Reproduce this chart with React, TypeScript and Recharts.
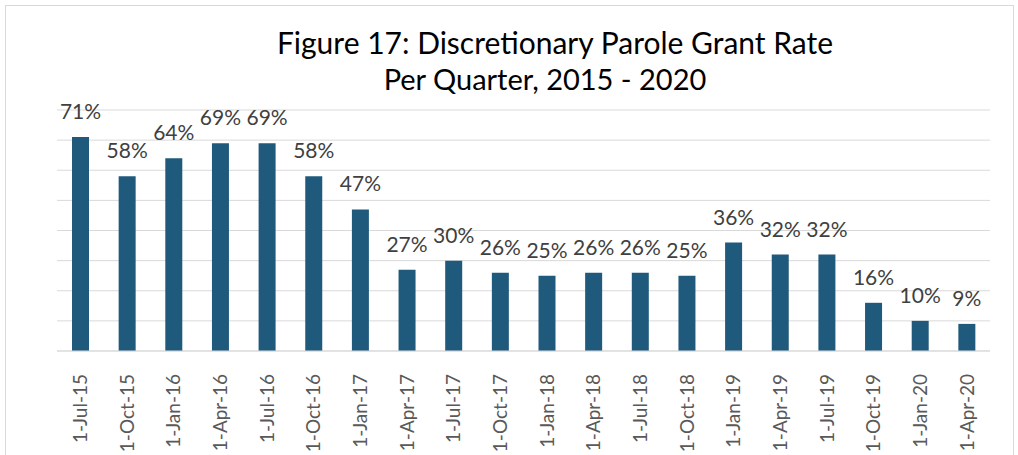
import { Bar, BarChart, CartesianGrid, LabelList, XAxis, YAxis } from "recharts";

const QUARTERS = [
  "1-Jul-15",
  "1-Oct-15",
  "1-Jan-16",
  "1-Apr-16",
  "1-Jul-16",
  "1-Oct-16",
  "1-Jan-17",
  "1-Apr-17",
  "1-Jul-17",
  "1-Oct-17",
  "1-Jan-18",
  "1-Apr-18",
  "1-Jul-18",
  "1-Oct-18",
  "1-Jan-19",
  "1-Apr-19",
  "1-Jul-19",
  "1-Oct-19",
  "1-Jan-20",
  "1-Apr-20",
];

const GRANT_RATE = [71, 58, 64, 69, 69, 58, 47, 27, 30, 26, 25, 26, 26, 25, 36, 32, 32, 16, 10, 9];

const Y_TICKS = [0, 10, 20, 30, 40, 50, 60, 70, 80];

const BAR_COLOR = "#1f5a7c";
const FONT = "Lato, 'Open Sans', sans-serif";

const chartData = QUARTERS.map((quarter, index) => ({
  quarter,
  rate: GRANT_RATE[index],
}));

function QuarterTick({ x, y, payload }: any) {
  return (
    <g transform={`translate(${x},${y})`}>
      <text
        transform="rotate(-90)"
        x={-15}
        y={0}
        dy="0.36em"
        textAnchor="end"
        fill="#595959"
        fontSize={19}
        fontFamily={FONT}
      >
        {payload.value}
      </text>
    </g>
  );
}

export default function App() {
  return (
    <div
      style={{
        position: "absolute",
        left: 0,
        top: 0,
        width: 1018,
        height: 455,
        overflow: "hidden",
        background: "#fff",
      }}
    >
      <div
        style={{
          position: "absolute",
          left: 5,
          top: 5,
          width: 1007,
          height: 500,
          border: "1px solid #d9d9d9",
        }}
      />
      <div
        style={{
          position: "absolute",
          left: 0,
          top: 24,
          width: 1018,
          paddingLeft: 92,
          boxSizing: "border-box",
          textAlign: "center",
          fontFamily: FONT,
          color: "#000",
        }}
      >
        <div style={{ fontSize: 30, lineHeight: "36px" }}>
          Figure 17: Discretionary Parole Grant Rate
        </div>
        <div style={{ fontSize: 29, lineHeight: "38px", paddingRight: 20 }}>
          Per Quarter, 2015 - 2020
        </div>
      </div>
      <div style={{ position: "absolute", left: 0, top: 0 }}>
        <BarChart
          width={1018}
          height={520}
          data={chartData}
          margin={{ top: 110, right: 28, bottom: 0, left: 57 }}
          barCategoryGap={0}
        >
          <CartesianGrid vertical={false} stroke="#d9d9d9" strokeWidth={1} />
          <YAxis hide domain={[0, 80]} ticks={Y_TICKS} />
          <XAxis
            dataKey="quarter"
            interval={0}
            height={169}
            axisLine={{ stroke: "#d9d9d9" }}
            tickLine={false}
            tick={<QuarterTick />}
          />
          <Bar dataKey="rate" fill={BAR_COLOR} barSize={17} isAnimationActive={false}>
            <LabelList
              dataKey="rate"
              position="top"
              offset={18}
              formatter={(value: any) => `${value}%`}
              fill="#404040"
              fontSize={21}
              fontFamily={FONT}
            />
          </Bar>
        </BarChart>
      </div>
    </div>
  );
}
